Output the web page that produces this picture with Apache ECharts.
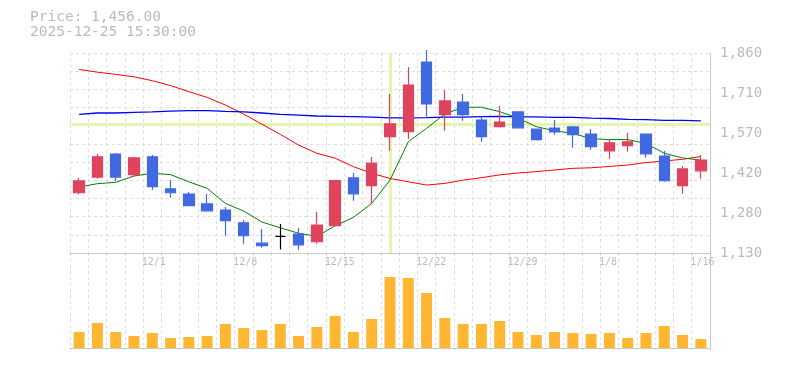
<!DOCTYPE html>
<html>
<head>
<meta charset="utf-8">
<script src="https://cdn.jsdelivr.net/npm/echarts@6/dist/echarts.min.js"></script>
<style>
html,body{margin:0;padding:0;background:#fff;}
#chart{width:785px;height:370px;}
</style>
</head>
<body>
<div id="chart"></div>
<script>
const categories = ['11/25','11/26','11/27','11/28','12/1','12/2','12/3','12/4','12/5','12/8','12/9','12/10','12/11','12/12','12/15','12/16','12/17','12/18','12/19','12/22','12/23','12/24','12/25','12/26','12/29','12/30','1/5','1/6','1/7','1/8','1/9','1/13','1/14','1/15','1/16'];
const labelDates = ['12/1','12/8','12/15','12/22','12/29','1/8','1/16'];
const openV  = [1350,1407,1491,1416,1481,1364,1345,1309,1287,1240,1166,1191,1199,1171,1230,1404,1376,1555,1573,1827,1635,1681,1615,1591,1645,1582,1586,1590,1564,1503,1522,1564,1484,1376,1430];
const closeV = [1393,1481,1407,1477,1372,1350,1303,1284,1248,1193,1157,1191,1160,1232,1394,1346,1458,1601,1743,1674,1685,1635,1555,1608,1587,1544,1572,1562,1518,1532,1536,1492,1394,1437,1469];
const lowV   = [1344,1401,1393,1408,1361,1332,1302,1281,1193,1164,1149,1143,1142,1164,1229,1321,1308,1503,1546,1628,1576,1613,1536,1590,1584,1541,1562,1514,1507,1474,1500,1478,1390,1346,1401];
const highV  = [1404,1491,1495,1481,1488,1396,1353,1345,1298,1250,1218,1236,1221,1280,1396,1422,1480,1710,1809,1871,1725,1710,1630,1667,1645,1583,1615,1594,1583,1546,1568,1564,1502,1448,1488];
const ma5  = [1371,1383,1388,1411,1421,1416,1390,1366,1311,1283,1243,1222,1202,1191,1229,1260,1311,1396,1536,1585,1637,1662,1662,1646,1622,1591,1576,1567,1547,1544,1544,1530,1494,1477,1469];
const ma25 = [1800,1790,1782,1773,1759,1741,1719,1698,1670,1637,1600,1563,1524,1494,1476,1445,1421,1402,1390,1378,1384,1396,1405,1415,1422,1427,1433,1439,1441,1446,1451,1460,1466,1472,1482];
const ma75 = [1636,1641,1641,1643,1645,1648,1650,1650,1647,1645,1641,1636,1633,1630,1629,1628,1626,1623,1623,1624,1626,1626,1628,1629,1627,1627,1625,1625,1622,1621,1618,1617,1614,1614,1612];
const volume = [16000,25000,16000,12000,15000,10000,11000,12000,24000,20000,18000,24000,12000,21000,32000,16000,29000,71000,70000,55000,30000,24000,24000,27000,16000,13000,16000,15000,14000,15000,10000,15000,22000,13000,9000];
const yTickLabels = ['1,130','1,280','1,420','1,570','1,710','1,860'];
const priceMin = 1130, priceMax = 1860;
const crossDate = '12/18';
const crossPrice = 1601;
const headerPrice = 'Price: 1,456.00';
const headerTime = '2025-12-25 15:30:00';

const mono = 'DejaVu Sans Mono';
const gridLine = {show:true, lineStyle:{color:'#dedede', width:1, type:[3,3]}};
const axisLineC = '#c8c8c8';

const candleData = categories.map((c,i)=>[openV[i], closeV[i], lowV[i], highV[i]]);

const chart = echarts.init(document.getElementById('chart'), null, {renderer:'canvas'});
chart.setOption({
  animation:false,
  backgroundColor:'#fff',
  title:{
    text: headerPrice + '\n' + headerTime,
    left:30, top:10, padding:0,
    textStyle:{fontFamily:mono, fontSize:14.5, fontWeight:'normal', color:'#bbbbbb', lineHeight:15}
  },
  grid:[
    {left:70, right:75, top:53, height:200},
    {left:70, right:75, top:253, height:97}
  ],
  xAxis:[
    {type:'category', gridIndex:0, data:categories, boundaryGap:true,
     axisLine:{show:true, lineStyle:{color:axisLineC, width:1}},
     axisTick:{show:false},
     axisLabel:{show:true, interval:(idx,val)=>labelDates.indexOf(val)>=0, margin:4,
       formatter:v=>'{a|'+v+'}',
       rich:{a:{width:21, align:'left', fontFamily:mono, fontSize:10, color:'#bbbbbb'}}},
     splitLine:Object.assign({interval:0}, gridLine)},
    {type:'category', gridIndex:1, data:categories, boundaryGap:true,
     axisLine:{show:true, lineStyle:{color:axisLineC, width:1}},
     axisTick:{show:false}, axisLabel:{show:false},
     splitLine:Object.assign({interval:0}, gridLine)}
  ],
  yAxis:[
    {type:'value', gridIndex:0, min:priceMin, max:priceMax, show:false, scale:true},
    {type:'value', gridIndex:0, min:0, max:yTickLabels.length-1, interval:1, position:'right',
     axisLine:{show:true, lineStyle:{color:axisLineC, width:1}}, axisTick:{show:false},
     axisLabel:{margin:10, fontFamily:mono, fontSize:14, color:'#bbbbbb', formatter:v=>yTickLabels[v]},
     splitLine:{show:false}},
    {type:'value', gridIndex:0, min:0, max:11, interval:1, position:'left',
     axisLine:{show:false}, axisTick:{show:false}, axisLabel:{show:false},
     splitLine:gridLine},
    {type:'value', gridIndex:1, min:-2000, max:95000, position:'right',
     axisLine:{show:true, lineStyle:{color:axisLineC, width:1}}, axisTick:{show:false},
     axisLabel:{show:false}, splitLine:{show:false}}
  ],
  series:[
    {type:'line', xAxisIndex:0, yAxisIndex:0, data:ma25, symbol:'none', z:3,
     lineStyle:{color:'#ff0000', width:1}, silent:true},
    {type:'line', xAxisIndex:0, yAxisIndex:0, data:ma75, symbol:'none', z:3,
     lineStyle:{color:'#0000ff', width:1.3}, silent:true},
    {type:'line', xAxisIndex:0, yAxisIndex:0, data:ma5, symbol:'none', z:3,
     lineStyle:{color:'#008000', width:1}, silent:true},
    {type:'candlestick', xAxisIndex:0, yAxisIndex:0, data:candleData, barWidth:11, z:4, clip:false,
     itemStyle:{color:'#e0435e', color0:'#4169e1', borderColor:'#e0435e', borderColor0:'#4169e1', borderColorDoji:'#000000', borderWidth:1.2},
     markLine:{silent:true, symbol:'none', z:1, label:{show:false},
       lineStyle:{color:'#e6f5ad', width:3, type:'solid'},
       data:[{xAxis:crossDate},{yAxis:crossPrice}]}},
    {type:'bar', xAxisIndex:1, yAxisIndex:3, data:volume, barWidth:11,
     itemStyle:{color:'#ffb733'}, silent:true}
  ]
});
</script>
</body>
</html>
